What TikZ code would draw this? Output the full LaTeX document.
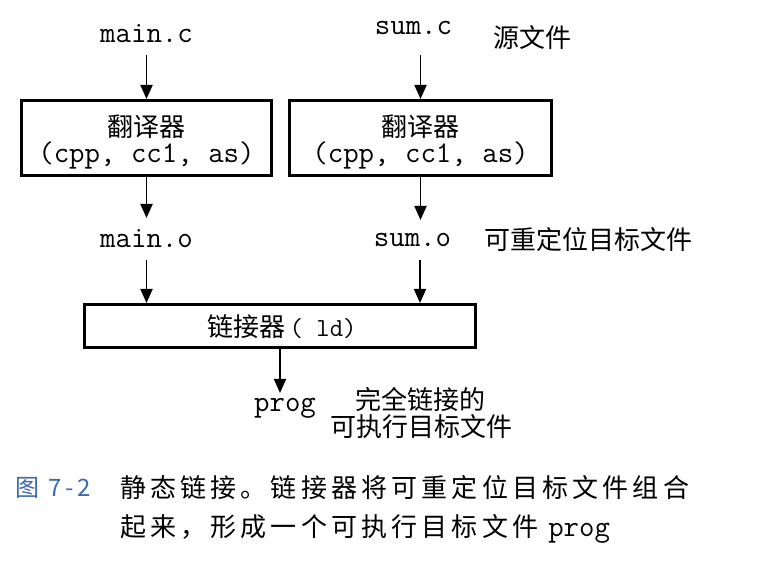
\documentclass[tikz,border=0pt]{standalone}
\usepackage{fontspec}
\newfontfamily\cjk{Noto Sans CJK SC}
\newfontfamily\cjkcap{Noto Sans CJK SC}[LetterSpace=16]
\newfontfamily\mono{Latin Modern Mono}
\usetikzlibrary{arrows.meta,calc}
\definecolor{capblue}{RGB}{60,105,175}
\begin{document}
\begin{tikzpicture}[x=1pt,y=-1pt,
  mtext/.style={font=\fontsize{30}{34}\selectfont\mono, inner sep=0pt, anchor=base},
  ctext/.style={font=\fontsize{26}{30}\selectfont\cjk, inner sep=0pt},
  captext/.style={font=\fontsize{26}{30}\selectfont\cjkcap, inner sep=0pt, anchor=west},
  procbox/.style={draw, line width=3pt, inner sep=0pt},
  arr/.style={line width=1.8pt, -{Triangle[width=12pt,length=14pt]}}]
\useasboundingbox (0,0) rectangle (764,561);
\fill[white] (0,0) rectangle (764,561);

% source files
\node[mtext] (mainc) at (146.5,43) {main.c};
\node[mtext] (sumc) at (413.5,35) {sum.c};
\node[ctext] (srclbl) at (532,38) {源文件};

% translator boxes
\node[procbox, minimum width=250pt, minimum height=75pt] (box1) at (146.5,138) {};
\node[procbox, minimum width=262pt, minimum height=75pt] (box2) at (420.5,138) {};
\node[ctext] (t1a) at (146.5,127) {翻译器};
\node[mtext] (t1b) at (146.5,163) {(cpp, cc1, as)};
\node[ctext] (t2a) at (420.5,127) {翻译器};
\node[mtext] (t2b) at (420.5,163) {(cpp, cc1, as)};

% relocatable object files
\node[mtext] (maino) at (146.5,248) {main.o};
\node[mtext] (sumo) at (412.5,247) {sum.o};
\node[ctext] (objlbl) at (588,240) {可重定位目标文件};

% linker
\node[procbox, minimum width=391pt, minimum height=43pt] (linker) at (280,326) {};
\node[ctext] (ltext) at (282,327) {链接器\,{\mono( ld)}};

% executable
\node[mtext] (prog) at (285,412) {prog};
\node[ctext] (exe1) at (420,400) {完全链接的};
\node[ctext] (exe2) at (421.5,427) {可执行目标文件};

% caption
\node[captext, font=\fontsize{24}{28}\selectfont\cjkcap, text=capblue] (figno) at (15,488) {图 7-2};
\node[captext] (cap1) at (120,488) {静态链接。链接器将可重定位目标文件组合};
\node[captext] (cap2) at (120,529) {起来，形成一个可执行目标文件\hspace{10pt}{\mono\fontsize{30}{34}\selectfont prog}};

% connectors
\coordinate (s1) at ($(mainc.base)+(0,12)$);
\draw[arr] (s1) -- (s1 |- box1.north);
\coordinate (s2) at ($(sumc.base -| box2.north)+(0,20)$);
\draw[arr] (s2) -- (s2 |- box2.north);
\coordinate (e3) at ($(maino.base)+(0,-30)$);
\draw[arr] (box1.south) -- (box1.south |- e3);
\coordinate (e4) at ($(sumo.base -| box2.south)+(0,-27)$);
\draw[arr] (box2.south) -- (box2.south |- e4);
\coordinate (s5) at ($(maino.base)+(0,12)$);
\draw[arr] (s5) -- (s5 |- linker.north);
\coordinate (s6) at ($(sumo.base)+(7.5,13)$);
\draw[arr] (s6) -- (s6 |- linker.north);
\coordinate (e7) at ($(prog.base)+(0,-19)$);
\draw[arr] (linker.south) -- (linker.south |- e7);
\end{tikzpicture}
\end{document}
